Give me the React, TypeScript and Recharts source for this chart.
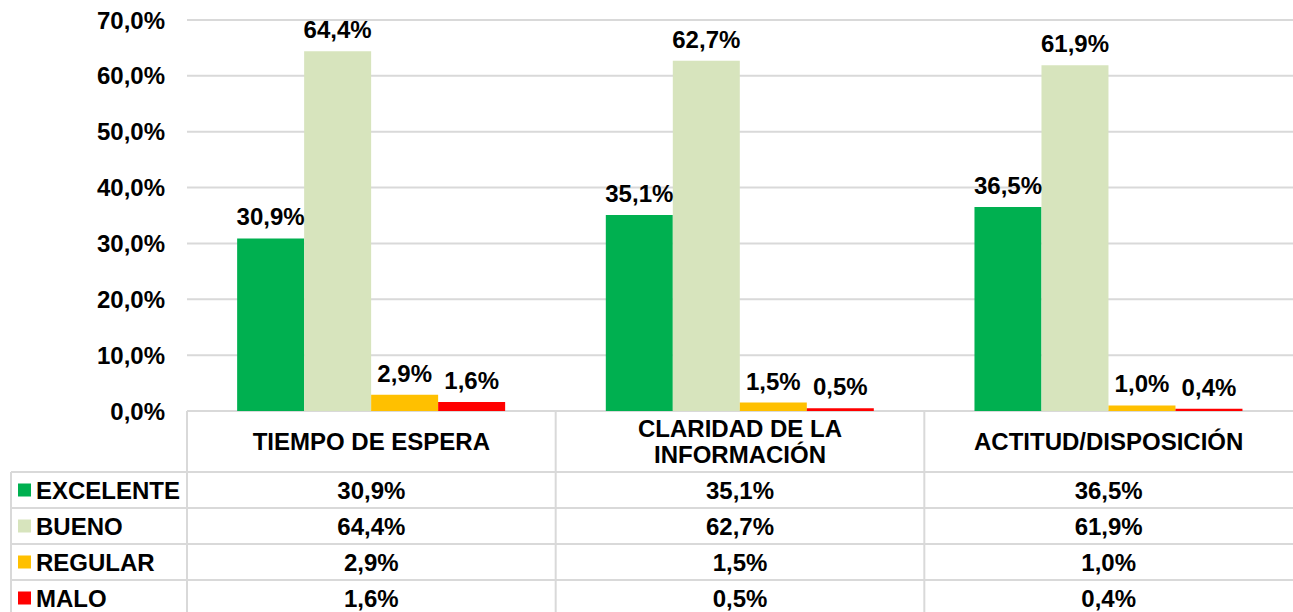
import { BarChart, Bar, XAxis, YAxis, CartesianGrid, LabelList } from "recharts";

const categories = ["TIEMPO DE ESPERA", "CLARIDAD DE LA INFORMACIÓN", "ACTITUD/DISPOSICIÓN"];
const excelente = [30.9, 35.1, 36.5];
const bueno = [64.4, 62.7, 61.9];
const regular = [2.9, 1.5, 1.0];
const malo = [1.6, 0.5, 0.4];
const yTicks = [0, 10, 20, 30, 40, 50, 60, 70];

const series = [
  { key: "excelente", name: "EXCELENTE", color: "#00B050", values: excelente },
  { key: "bueno", name: "BUENO", color: "#D7E4BD", values: bueno },
  { key: "regular", name: "REGULAR", color: "#FFC000", values: regular },
  { key: "malo", name: "MALO", color: "#FF0000", values: malo },
];

const data = categories.map((c, i) => {
  const row: Record<string, string | number> = { category: c };
  series.forEach((s) => (row[s.key] = s.values[i]));
  return row;
});

const W = 1293;
const H = 612;
const plotLeft = 187;
const plotTop = 20;
const plotBottom = 411;
const headerBottom = 472;
const rowH = 36;
const legendLeft = 11;
const FONT = "'Liberation Sans', Arial, sans-serif";
const FS = 24;
const LINE = "#D9D9D9";

const pct = (v: number) => `${v.toFixed(1).replace(".", ",")}%`;

function wrap(text: string, max = 18) {
  const words = text.split(" ");
  const lines: string[] = [];
  let cur = "";
  words.forEach((w) => {
    const next = cur ? `${cur} ${w}` : w;
    if (next.length > max && cur) {
      lines.push(cur);
      cur = w;
    } else cur = next;
  });
  if (cur) lines.push(cur);
  return lines;
}

function HeaderTick(props: any) {
  const { x, payload } = props;
  const lines = wrap(String(payload.value));
  const mid = (plotBottom + headerBottom) / 2;
  const lh = 26;
  const start = mid - ((lines.length - 1) * lh) / 2;
  return (
    <g>
      {lines.map((l, i) => (
        <text
          key={i}
          x={x}
          y={start + i * lh}
          textAnchor="middle"
          dominantBaseline="central"
          fontFamily={FONT}
          fontSize={FS}
          fontWeight="bold"
          fill="#000"
        >
          {l}
        </text>
      ))}
    </g>
  );
}

function DataTable() {
  const colW = (W - plotLeft) / categories.length;
  const cols = categories.map((_, i) => plotLeft + i * colW);
  return (
    <svg
      width={W}
      height={H}
      style={{ position: "absolute", left: 0, top: 0, pointerEvents: "none" }}
    >
      {series.map((_, i) => (
        <line
          key={`h${i}`}
          x1={legendLeft}
          x2={W}
          y1={headerBottom + i * rowH}
          y2={headerBottom + i * rowH}
          stroke={LINE}
          strokeWidth={2}
        />
      ))}
      <line x1={legendLeft} x2={legendLeft} y1={headerBottom} y2={H} stroke={LINE} strokeWidth={2} />
      {cols.map((cx, i) => (
        <line key={`v${i}`} x1={cx} x2={cx} y1={plotBottom} y2={H} stroke={LINE} strokeWidth={2} />
      ))}
      {series.map((s, r) => {
        const cy = headerBottom + r * rowH + rowH / 2;
        return (
          <g key={s.key}>
            <rect x={18} y={cy - 6.5} width={13} height={13} fill={s.color} />
            <text
              x={36}
              y={cy}
              dominantBaseline="central"
              fontFamily={FONT}
              fontSize={FS}
              fontWeight="bold"
              fill="#000"
            >
              {s.name}
            </text>
            {s.values.map((v, c) => (
              <text
                key={c}
                x={cols[c] + colW / 2}
                y={cy}
                textAnchor="middle"
                dominantBaseline="central"
                fontFamily={FONT}
                fontSize={FS}
                fontWeight="bold"
                fill="#000"
              >
                {pct(v)}
              </text>
            ))}
          </g>
        );
      })}
    </svg>
  );
}

export default function App() {
  return (
    <div style={{ position: "absolute", left: 0, top: 0, width: W, height: H, background: "#fff" }}>
      <BarChart
        width={W}
        height={H}
        data={data}
        margin={{ top: plotTop, right: 0, left: 0, bottom: H - headerBottom }}
        barCategoryGap="13.6%"
        barGap={0}
      >
        <CartesianGrid horizontal vertical={false} stroke={LINE} strokeWidth={2} />
        <XAxis
          dataKey="category"
          height={headerBottom - plotBottom}
          axisLine={false}
          tickLine={false}
          tickSize={0}
          tickMargin={0}
          interval={0}
          tick={<HeaderTick />}
        />
        <YAxis
          width={plotLeft}
          domain={[0, 70]}
          ticks={yTicks}
          axisLine={false}
          tickLine={false}
          tickMargin={16}
          tickFormatter={(v: number) => pct(v)}
          tick={{ fill: "#000", fontSize: FS, fontWeight: "bold", fontFamily: FONT }}
        />
        {series.map((s) => (
          <Bar key={s.key} dataKey={s.key} name={s.name} fill={s.color} isAnimationActive={false}>
            <LabelList
              dataKey={s.key}
              position="top"
              offset={13}
              formatter={(v: any) => pct(Number(v))}
              fill="#000"
              fontSize={FS}
              fontWeight="bold"
              fontFamily={FONT}
            />
          </Bar>
        ))}
      </BarChart>
      <DataTable />
    </div>
  );
}
